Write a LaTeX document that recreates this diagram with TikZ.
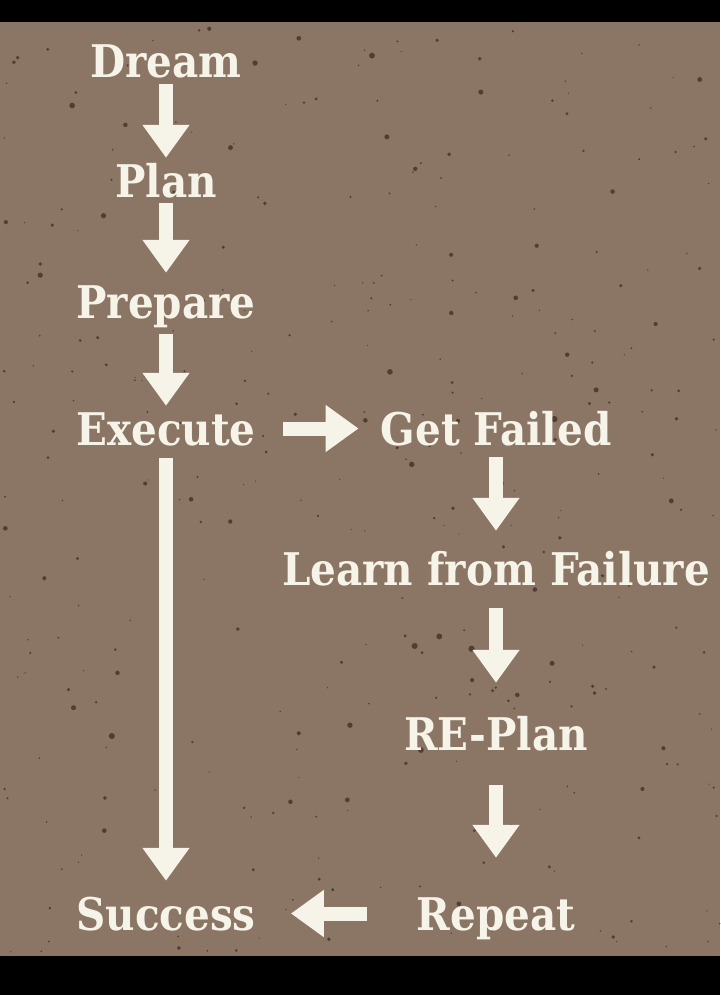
\documentclass[tikz,border=0pt]{standalone}
\usepackage{fontspec}
\newfontfamily\flowfont{DejaVu Serif Condensed}
\usepackage{xcolor}
\usetikzlibrary{arrows.meta}
\definecolor{wall}{RGB}{139,117,100}
\definecolor{speck}{RGB}{58,44,36}
\definecolor{chalk}{RGB}{246,243,232}

\begin{document}
\begin{tikzpicture}[x=1pt,y=-1pt]
\useasboundingbox (0,0) rectangle (720,995);
\fill[black] (0,0) rectangle (720,995);
\fill[wall] (0,22) rectangle (720,956);
% speckles on the wall
\pgfmathsetseed{42}
\foreach \k in {1,...,340}{
  \pgfmathsetmacro{\sx}{720*rnd}
  \pgfmathsetmacro{\sy}{25+928*rnd}
  \pgfmathsetmacro{\sr}{0.6+2.8*rnd*rnd}
  \fill[speck, opacity=0.75] (\sx,\sy) circle[radius=\sr pt];
}

\begin{scope}[every node/.style={text=chalk, anchor=base,
    font=\flowfont\bfseries\fontsize{45}{50}\selectfont,
    text height=33pt, text depth=0pt, inner xsep=4pt, inner ysep=6pt}]
  \node (dream) at (166,78) {Dream};
  \node (plan) at (166,197) {Plan};
  \node (prepare) at (166,318) {Prepare};
  \node (execute) at (166,445) {Execute};
  \node (success) at (166,930) {Success};
  \node (failed) at (496,445) {Get Failed};
  \node (learn) at (496,585) {Learn from Failure};
  \node (replan) at (496,750) {RE-Plan};
  \node (repeat) at (496,930) {Repeat};
\end{scope}

\begin{scope}[>={Triangle[width=45pt,length=33pt]},
              every edge/.style={draw=chalk, line width=14pt}]
    \path[->] (dream) edge (plan);
    \path[->] (plan) edge[shorten >=6pt] (prepare);
    \path[->] (prepare) edge[shorten <=10pt] (execute);
    \path[->] (execute) edge[shorten <=7pt, shorten >=10pt] (success);
    \path[->] (execute) edge[shorten <=23pt, shorten >=18pt] (failed);
    \path[->] (failed) edge[shorten <=6pt, shorten >=15pt] (learn);
    \path[->] (learn) edge[shorten <=17pt, shorten >=28pt] (replan);
    \path[->] (replan) edge[shorten <=29pt, shorten >=33pt] (repeat);
    \path[->] (repeat) edge[shorten <=46pt, shorten >=31pt] (success);
\end{scope}

\end{tikzpicture}
\end{document}
